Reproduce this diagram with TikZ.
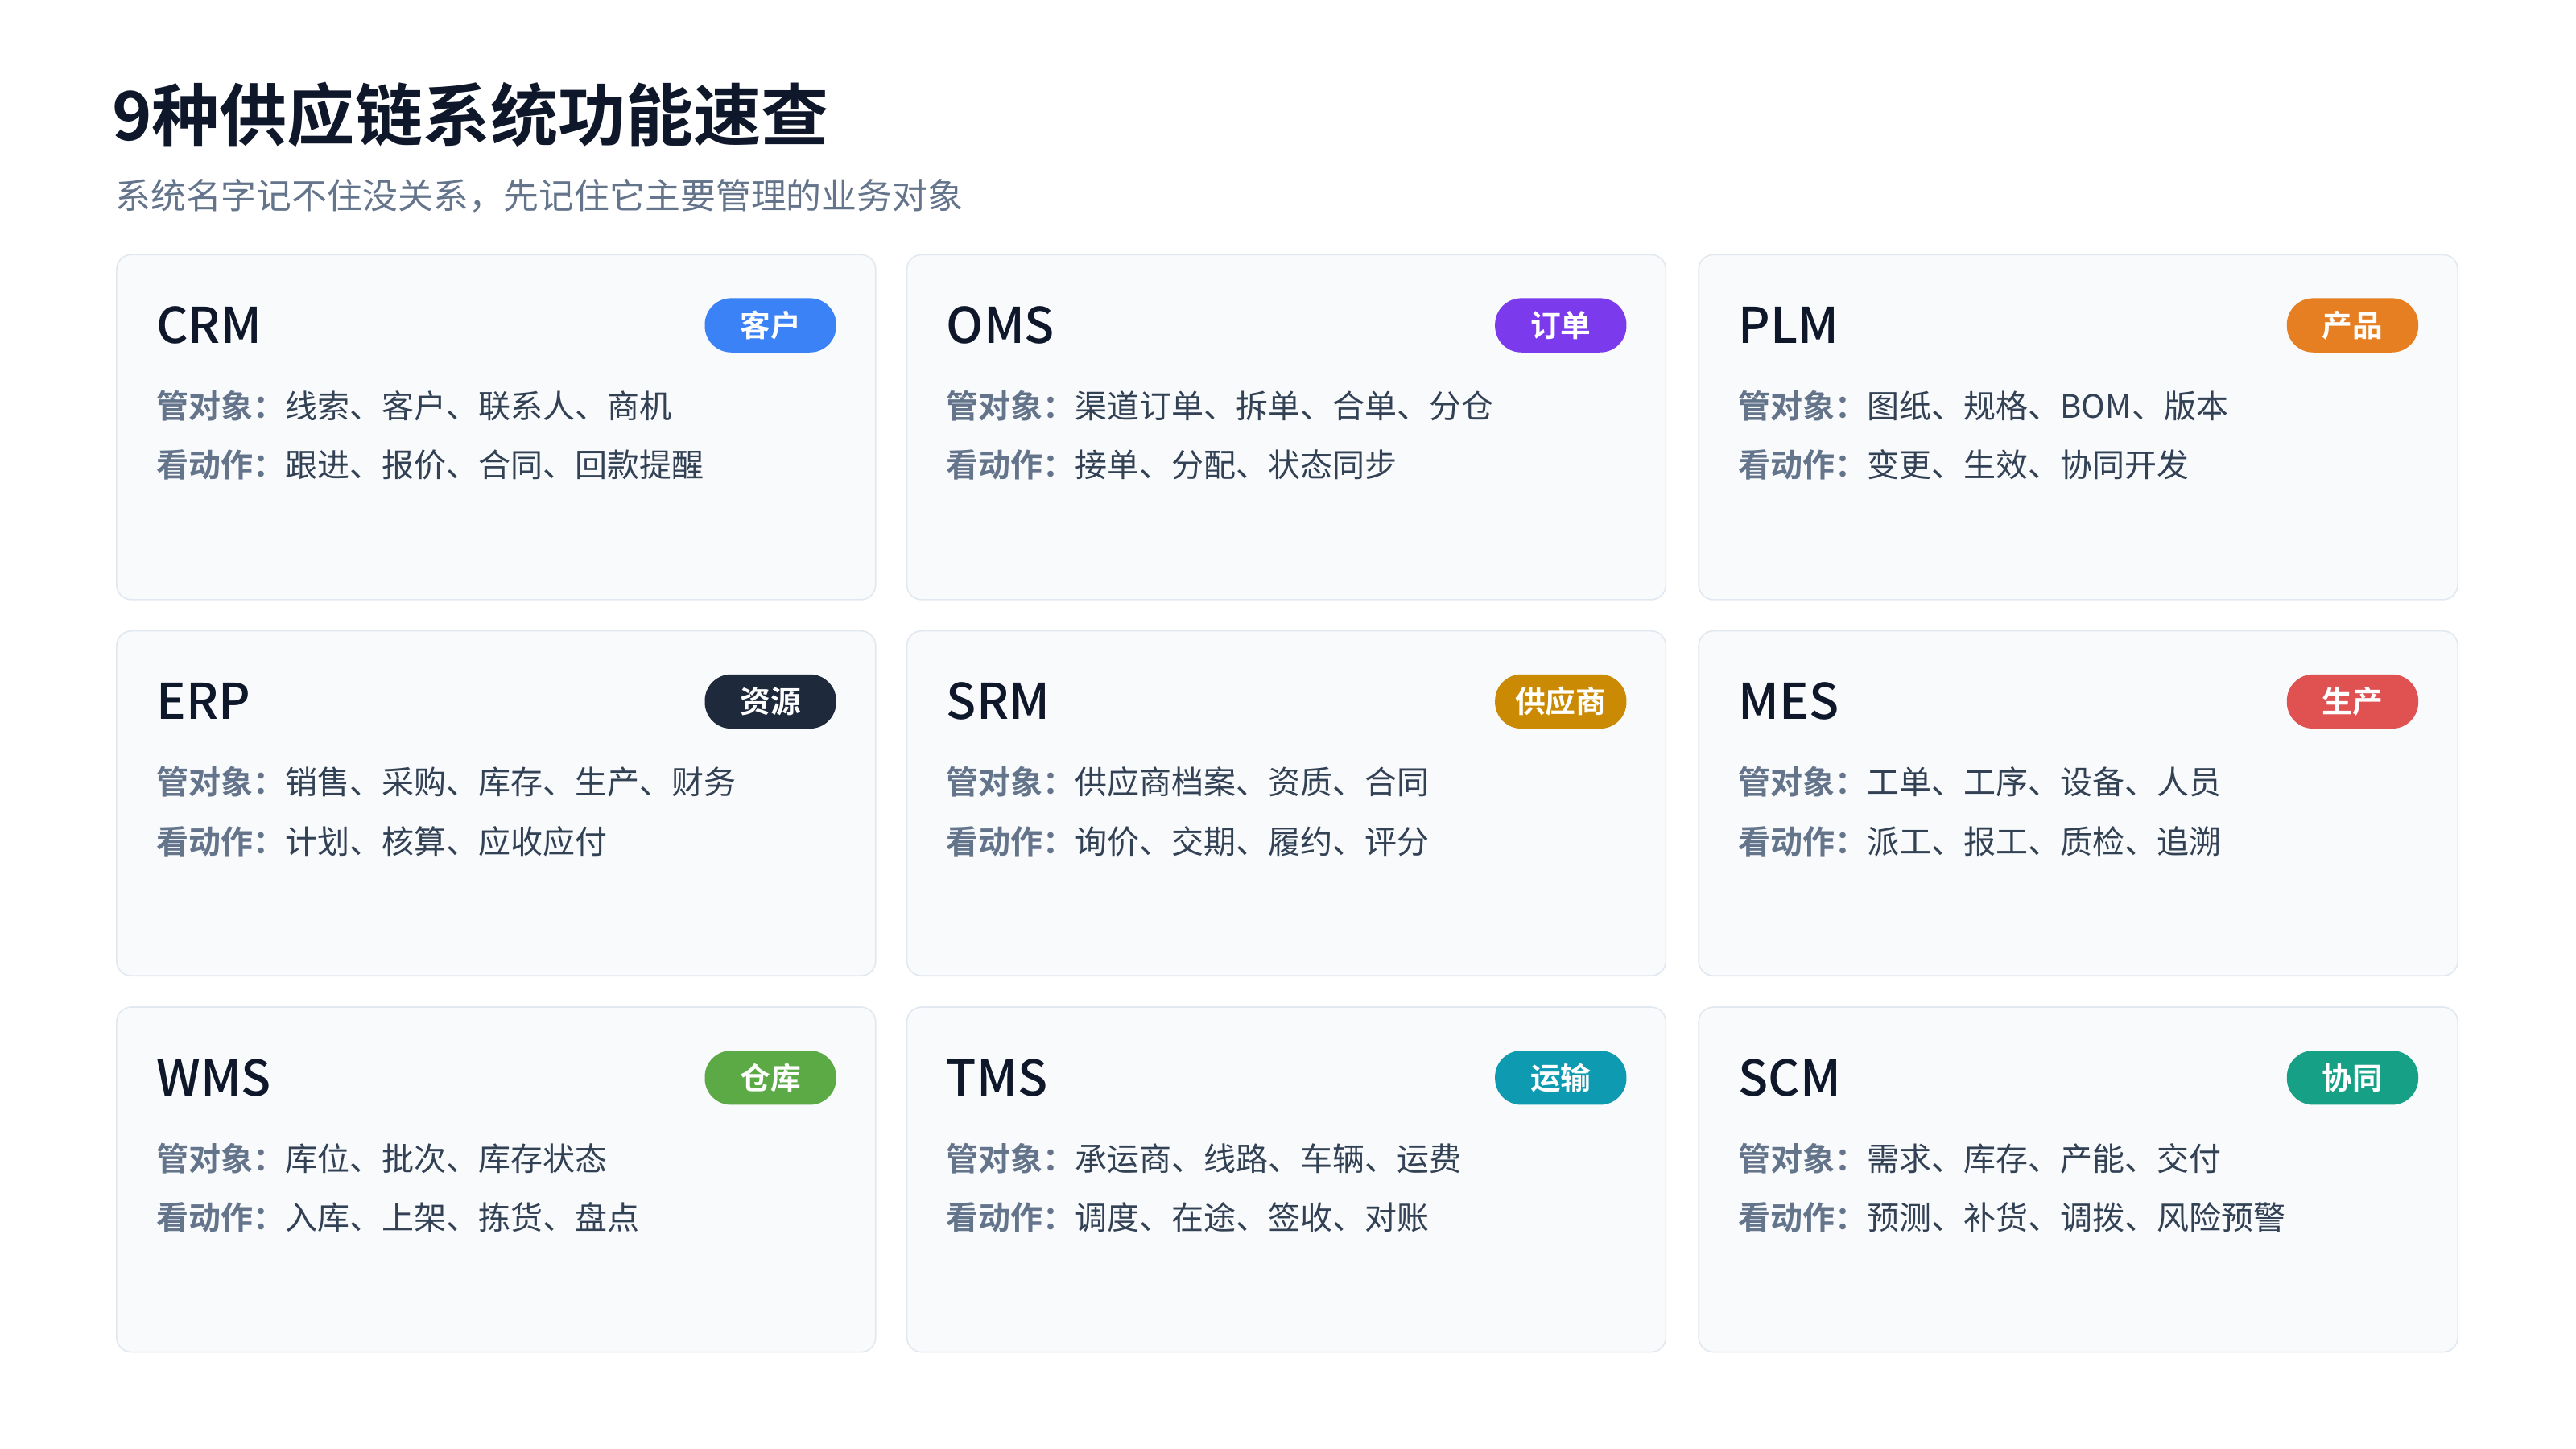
\documentclass[tikz,border=0pt]{standalone}
\usepackage{fontspec}
\setmainfont{Noto Sans CJK SC}[BoldFont={* Bold}]
\newfontfamily\medf{Noto Sans CJK SC Medium}
\begin{document}
\definecolor{cardfill}{HTML}{F8FAFC}
\definecolor{cardline}{HTML}{E2E8F0}
\definecolor{titlec}{HTML}{0F172A}
\definecolor{subc}{HTML}{64748B}
\definecolor{labc}{HTML}{64748B}
\definecolor{txtc}{HTML}{334155}
\definecolor{cblue}{HTML}{3B82F6}
\definecolor{cpurple}{HTML}{7C3AED}
\definecolor{corange}{HTML}{E67E22}
\definecolor{cdark}{HTML}{1E293B}
\definecolor{cgold}{HTML}{CA8A04}
\definecolor{cred}{HTML}{E05252}
\definecolor{cgreen}{HTML}{5BAA45}
\definecolor{cteal}{HTML}{0E9AB0}
\definecolor{cgteal}{HTML}{16A085}
\begin{tikzpicture}[x=1pt,y=-1pt,
  card/.style={draw=cardline,fill=cardfill,rounded corners=9pt,line width=0.8pt},
  ctitle/.style={anchor=west,font=\medf\fontsize{30}{32}\selectfont,text=titlec},
  badge/.style={fill=#1,rounded corners=16pt,minimum width=80pt,minimum height=33pt,inner sep=0pt,text=white,font=\fontsize{18.5}{20}\selectfont\bfseries},
  line/.style={anchor=west,font=\fontsize{19.6}{21}\selectfont,text=txtc,inner sep=0pt}]
\useasboundingbox (0,0) rectangle (1568,882);
\fill[white] (0,0) rectangle (1568,882);
\node[anchor=west,font=\fontsize{41.2}{44}\selectfont\bfseries,text=titlec,inner sep=0pt] (title) at (68,70) {9种供应链系统功能速查};
\node[anchor=west,font=\fontsize{21.5}{23}\selectfont,text=subc,inner sep=0pt] (sub) at (70,119) {系统名字记不住没关系，先记住它主要管理的业务对象};
\newcommand\mycard[7]{%
  \draw[card] (#1,#2) rectangle ++(462,210);
  \node[ctitle,inner sep=0pt] (#3t) at (#1+24,#2+43) {#3};
  \node[badge=#5] (#3b) at (#1+398,#2+43) {#4};
  \node[line] (#3o) at (#1+24,#2+92) {\textcolor{labc}{\bfseries 管对象：}#6};
  \node[line] (#3a) at (#1+24,#2+128) {\textcolor{labc}{\bfseries 看动作：}#7};
}
\mycard{71}{155}{CRM}{客户}{cblue}{线索、客户、联系人、商机}{跟进、报价、合同、回款提醒}
\mycard{552}{155}{OMS}{订单}{cpurple}{渠道订单、拆单、合单、分仓}{接单、分配、状态同步}
\mycard{1034}{155}{PLM}{产品}{corange}{图纸、规格、BOM、版本}{变更、生效、协同开发}
\mycard{71}{384}{ERP}{资源}{cdark}{销售、采购、库存、生产、财务}{计划、核算、应收应付}
\mycard{552}{384}{SRM}{供应商}{cgold}{供应商档案、资质、合同}{询价、交期、履约、评分}
\mycard{1034}{384}{MES}{生产}{cred}{工单、工序、设备、人员}{派工、报工、质检、追溯}
\mycard{71}{613}{WMS}{仓库}{cgreen}{库位、批次、库存状态}{入库、上架、拣货、盘点}
\mycard{552}{613}{TMS}{运输}{cteal}{承运商、线路、车辆、运费}{调度、在途、签收、对账}
\mycard{1034}{613}{SCM}{协同}{cgteal}{需求、库存、产能、交付}{预测、补货、调拨、风险预警}
\end{tikzpicture}
\end{document}
